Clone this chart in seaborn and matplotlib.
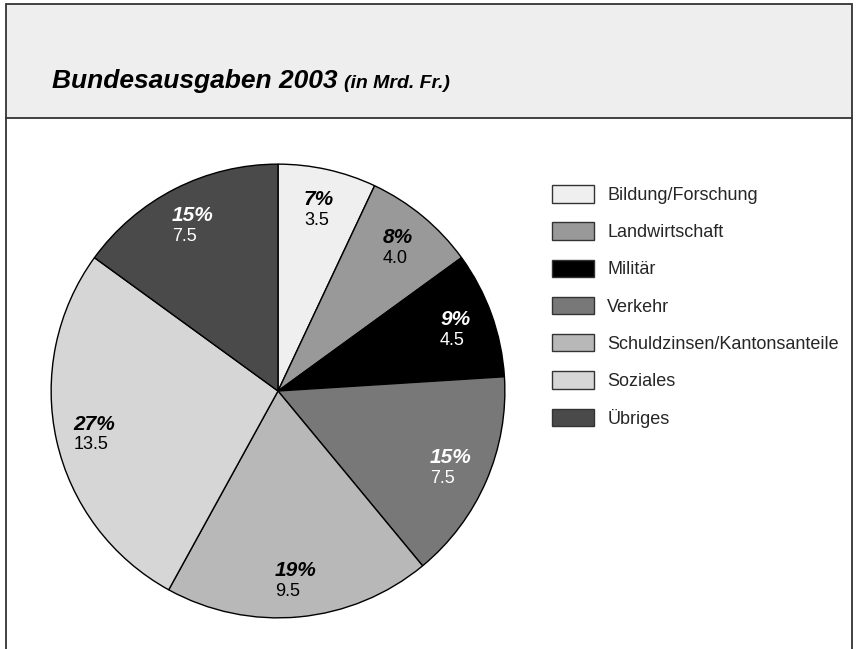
import matplotlib
matplotlib.use("Agg")
import matplotlib.pyplot as plt
import seaborn as sns
from matplotlib.patches import Rectangle, Patch
from matplotlib.lines import Line2D
import numpy as np

categories = ["Bildung/Forschung", "Landwirtschaft", "Militär", "Verkehr",
              "Schuldzinsen/Kantonsanteile", "Soziales", "Übriges"]
values = [3.5, 4.0, 4.5, 7.5, 9.5, 13.5, 7.5]
percents = ["7%", "8%", "9%", "15%", "19%", "27%", "15%"]
value_labels = ["3.5", "4.0", "4.5", "7.5", "9.5", "13.5", "7.5"]
colors = ["#efefef", "#999999", "#000000", "#787878", "#b8b8b8", "#d6d6d6", "#4a4a4a"]
label_colors = ["black", "black", "white", "white", "black", "black", "white"]
title_main = "Bundesausgaben 2003"
title_sub = "(in Mrd. Fr.)"

sns.set_theme(style="white")
FONT = ["Liberation Sans Narrow", "Liberation Sans", "DejaVu Sans"]
plt.rcParams["font.family"] = FONT

W, H = 857, 649
fig = plt.figure(figsize=(W / 100, H / 100), dpi=100)
fig.patch.set_facecolor("white")

def fx(x):
    return x / W

def fy(y):
    return 1 - y / H

# frame and header
fig.add_artist(Rectangle((fx(6), fy(118)), fx(852) - fx(6), fy(4) - fy(118),
                         transform=fig.transFigure, facecolor="#eeeeee",
                         edgecolor="#333333", linewidth=1.3))
fig.add_artist(Line2D([fx(6), fx(6)], [fy(118), 0], transform=fig.transFigure,
                      color="#333333", linewidth=1.3))
fig.add_artist(Line2D([fx(852), fx(852)], [fy(118), 0], transform=fig.transFigure,
                      color="#333333", linewidth=1.3))

t = fig.text(fx(52), fy(88), title_main, fontsize=19, fontweight="bold",
             fontstyle="italic", ha="left", va="baseline", color="black")
fig.canvas.draw()
bb = t.get_window_extent()
fig.text(bb.x1 / W + fx(7), fy(88), title_sub, fontsize=14, fontweight="bold",
         fontstyle="italic", ha="left", va="baseline", color="black")

# pie
cx, cy, r = 278, 391, 228
ax = fig.add_axes([fx(cx - r), fy(cy + r), 2 * r / W, 2 * r / H])
wedges, _ = ax.pie(values, colors=colors, startangle=90, counterclock=False,
                   radius=1.0, wedgeprops=dict(edgecolor="black", linewidth=1.0))
ax.set_xlim(-1.005, 1.005)
ax.set_ylim(-1.005, 1.005)
ax.set_aspect("equal")
ax.axis("off")

total = sum(values)
cum = np.cumsum([0] + values)
fig.canvas.draw()
px = 1.0 / r  # one pixel in data units
for i, v in enumerate(values):
    mid = 90 - 360 * (cum[i] + v / 2) / total
    rad = np.deg2rad(mid)
    lx, ly = 0.83 * np.cos(rad), 0.83 * np.sin(rad)
    pt = ax.text(lx, ly + 2.5 * px, percents[i], fontsize=15, fontweight="bold",
                 fontstyle="italic", ha="center", va="baseline", color=label_colors[i])
    fig.canvas.draw()
    pb = pt.get_window_extent()
    left = ax.transData.inverted().transform((pb.x0, pb.y0))[0]
    ax.text(left, ly - 17.5 * px, value_labels[i], fontsize=13,
            ha="left", va="baseline", color=label_colors[i])

# legend
handles = [Patch(facecolor=c, edgecolor="#333333", linewidth=1.0) for c in colors]
leg = fig.legend(handles, categories, loc="upper left",
                 bbox_to_anchor=(fx(545), fy(178)), frameon=False,
                 fontsize=13, handlelength=2.3, handleheight=1.1,
                 labelspacing=1.02, handletextpad=0.75, borderaxespad=0)

fig.savefig("out.png", dpi=100)
